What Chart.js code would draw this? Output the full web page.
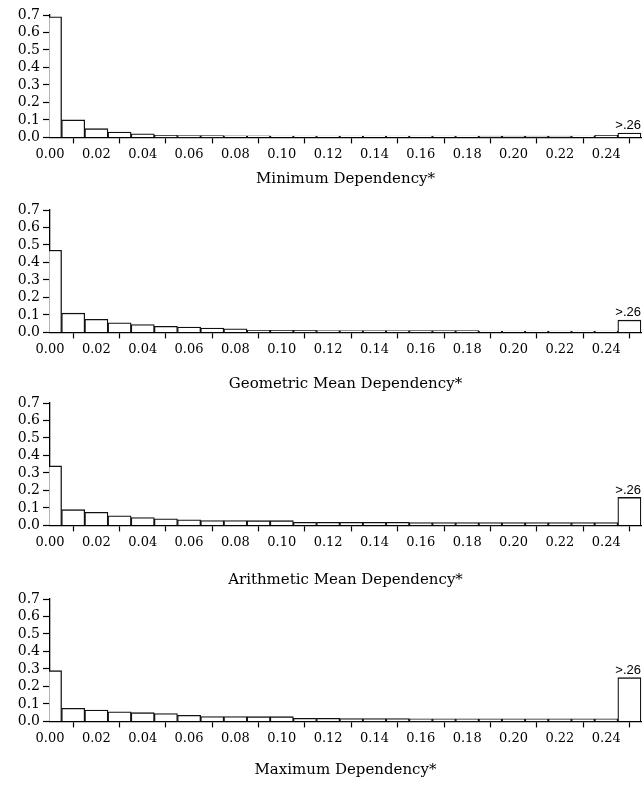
<!DOCTYPE html>
<html>
<head>
<meta charset="utf-8">
<script src="https://cdn.jsdelivr.net/npm/chart.js@4.4.1/dist/chart.umd.min.js"></script>
<style>
  body { margin: 0; background: #fff; }
  #wrap { position: relative; width: 644px; height: 787px; overflow: hidden; }
  canvas { position: absolute; left: 0; }
</style>
</head>
<body>
<div id="wrap">
  <canvas id="c0"></canvas>
  <canvas id="c1"></canvas>
  <canvas id="c2"></canvas>
  <canvas id="c3"></canvas>
</div>
<script>
// bin centres (last bin holds everything above .26)
const binCenters = [0.00, 0.01, 0.02, 0.03, 0.04, 0.05, 0.06, 0.07, 0.08, 0.09, 0.10, 0.11, 0.12,
                    0.13, 0.14, 0.15, 0.16, 0.17, 0.18, 0.19, 0.20, 0.21, 0.22, 0.23, 0.24, 0.25];

const minimumDep    = [0.69, 0.10, 0.05, 0.03, 0.02, 0.012, 0.01, 0.01, 0.009, 0.009, 0.008, 0.008, 0.008,
                       0.008, 0.008, 0.008, 0.008, 0.008, 0.008, 0.007, 0.007, 0.007, 0.007, 0.008, 0.012, 0.025];
const geometricDep  = [0.47, 0.11, 0.075, 0.055, 0.045, 0.035, 0.03, 0.025, 0.02, 0.012, 0.012, 0.012, 0.011,
                       0.011, 0.011, 0.011, 0.01, 0.01, 0.01, 0.008, 0.008, 0.008, 0.008, 0.008, 0.008, 0.07];
const arithmeticDep = [0.34, 0.09, 0.075, 0.055, 0.045, 0.038, 0.032, 0.028, 0.028, 0.027, 0.027, 0.018, 0.018,
                       0.017, 0.017, 0.017, 0.016, 0.016, 0.016, 0.016, 0.016, 0.016, 0.016, 0.016, 0.016, 0.16];
const maximumDep    = [0.29, 0.075, 0.065, 0.055, 0.05, 0.045, 0.035, 0.028, 0.028, 0.027, 0.027, 0.017, 0.017,
                       0.016, 0.016, 0.016, 0.015, 0.015, 0.015, 0.015, 0.015, 0.015, 0.015, 0.015, 0.015, 0.25];

const panelTitles = ['Minimum Dependency*', 'Geometric Mean Dependency*',
                     'Arithmetic Mean Dependency*', 'Maximum Dependency*'];
const xTickValues = [0.00, 0.02, 0.04, 0.06, 0.08, 0.10, 0.12, 0.14, 0.16, 0.18, 0.20, 0.22, 0.24];
const yTickValues = [0.0, 0.1, 0.2, 0.3, 0.4, 0.5, 0.6, 0.7];
const overflowLabel = '>.26';

const series = [minimumDep, geometricDep, arithmeticDep, maximumDep];

// canvas placement per panel
const panelTop = [0, 195, 388, 584];
const titlePad = [5, 15, 18, 12];

const serif = "'DejaVu Serif', serif";

const overflowTag = {
  id: 'overflowTag',
  afterDatasetsDraw(chart) {
    const meta = chart.getDatasetMeta(0);
    const bar = meta.data[meta.data.length - 1];
    const ctx = chart.ctx;
    ctx.save();
    ctx.fillStyle = '#000';
    ctx.font = "13px 'Liberation Sans', Arial, sans-serif";
    ctx.textAlign = 'right';
    ctx.textBaseline = 'bottom';
    ctx.fillText(overflowLabel, bar.x + bar.width / 2, bar.y - 1);
    ctx.restore();
  }
};

function makePanel(i) {
  const canvas = document.getElementById('c' + i);
  const h = 185 + titlePad[i];
  canvas.width = 644;
  canvas.height = h;
  canvas.style.top = panelTop[i] + 'px';

  const points = binCenters.map((x, k) => ({ x: x, y: series[i][k] }));

  new Chart(canvas.getContext('2d'), {
    type: 'bar',
    data: {
      datasets: [{
        data: points,
        backgroundColor: '#fff',
        borderColor: '#111',
        borderWidth: 1.3,
        barPercentage: 1,
        categoryPercentage: 1,
        clip: 0.7
      }]
    },
    options: {
      responsive: false,
      animation: false,
      devicePixelRatio: 1,
      layout: { padding: { top: 15, right: 3, left: 0, bottom: 0 } },
      plugins: { legend: { display: false }, tooltip: { enabled: false } },
      scales: {
        x: {
          type: 'linear',
          min: 0,
          max: 0.255,
          offset: false,
          afterBuildTicks(scale) {
            scale.ticks = xTickValues.map(v => ({ value: v }));
          },
          ticks: {
            autoSkip: false,
            maxRotation: 0,
            padding: 3,
            color: '#000',
            font: { family: serif, size: 13 },
            callback: v => Number(v).toFixed(2)
          },
          grid: { drawOnChartArea: false, drawTicks: true, tickLength: 6, tickColor: '#000', tickWidth: 1.2 },
          border: { display: true, color: '#000', width: 1.3 },
          title: {
            display: true,
            text: panelTitles[i],
            color: '#000',
            font: { family: serif, size: 15 },
            padding: { top: titlePad[i], bottom: 2 }
          }
        },
        y: {
          min: 0,
          max: 0.7,
          afterFit(scale) { scale.width = 50; },
          afterBuildTicks(scale) {
            scale.ticks = yTickValues.map(v => ({ value: v }));
          },
          ticks: {
            autoSkip: false,
            padding: 3,
            color: '#000',
            font: { family: serif, size: 14 },
            callback: v => Number(v).toFixed(1)
          },
          grid: { drawOnChartArea: false, drawTicks: true, tickLength: 7, tickColor: '#000', tickWidth: 1.2 },
          border: { display: true, color: '#000', width: 1.3 }
        }
      }
    },
    plugins: [overflowTag]
  });
}

window.onload = function() {
  for (let i = 0; i < 4; i++) makePanel(i);
};
</script>
</body>
</html>
